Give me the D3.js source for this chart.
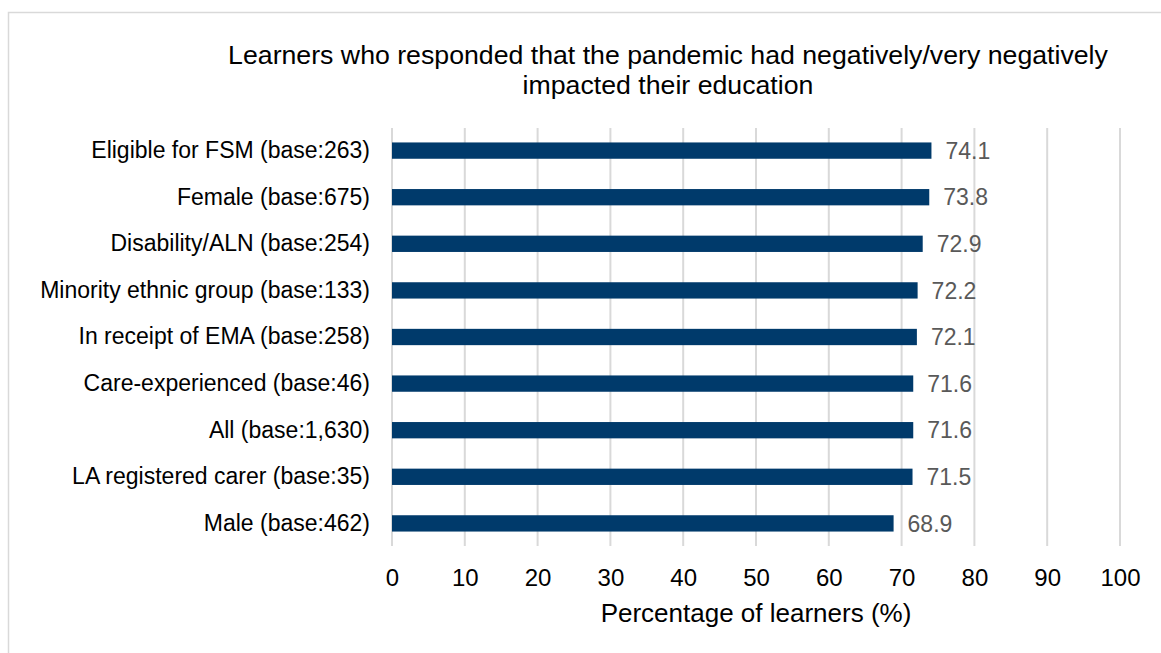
<!DOCTYPE html>
<html>
<head>
<meta charset="utf-8">
<script src="https://cdn.jsdelivr.net/npm/d3@7"></script>
<style>
  body { margin: 0; background: #fff; }
  text { font-family: "Liberation Sans", Arial, sans-serif; }
</style>
</head>
<body>
<div id="chart"></div>
<script>
// chart values
var categories = [
  "Eligible for FSM (base:263)",
  "Female (base:675)",
  "Disability/ALN (base:254)",
  "Minority ethnic group (base:133)",
  "In receipt of EMA (base:258)",
  "Care-experienced (base:46)",
  "All (base:1,630)",
  "LA registered carer (base:35)",
  "Male (base:462)"
];
var values = [74.1, 73.8, 72.9, 72.2, 72.1, 71.6, 71.6, 71.5, 68.9];
var xTicks = [0, 10, 20, 30, 40, 50, 60, 70, 80, 90, 100];

var svgWidth = 1161;
var svgHeight = 653;

var margin = { top: 128, right: 41, bottom: 107, left: 392 };
var width = svgWidth - margin.left - margin.right;
var height = svgHeight - margin.top - margin.bottom;

var svg = d3.select("#chart")
  .append("svg")
  .attr("width", svgWidth)
  .attr("height", svgHeight);

// outer frame
svg.append("rect")
  .attr("x", 8.5)
  .attr("y", 12.5)
  .attr("width", 1160)
  .attr("height", 660)
  .attr("fill", "none")
  .attr("stroke", "#d9d9d9")
  .attr("stroke-width", 1.5);

var g = svg.append("g")
  .attr("transform", `translate(${margin.left}, ${margin.top})`);

var xScale = d3.scaleLinear()
  .domain([0, 100])
  .range([0, width]);

var yScale = d3.scaleBand()
  .domain(categories)
  .range([0, height])
  .paddingInner(0.65)
  .paddingOuter(0.31);

// gridlines
g.selectAll(".grid")
  .data(xTicks)
  .enter()
  .append("line")
  .attr("x1", d => xScale(d))
  .attr("x2", d => xScale(d))
  .attr("y1", 0)
  .attr("y2", height)
  .attr("stroke", "#d9d9d9")
  .attr("stroke-width", 2);

// x axis
var bottomAxis = d3.axisBottom(xScale)
  .tickValues(xTicks)
  .tickSize(0)
  .tickPadding(23);

var xAxis = g.append("g")
  .attr("transform", `translate(0, ${height})`)
  .call(bottomAxis);
xAxis.select(".domain").remove();
xAxis.selectAll("text")
  .attr("font-size", 24)
  .attr("fill", "#000")
  .style("font-family", "'Liberation Sans', Arial, sans-serif");

// y axis
var leftAxis = d3.axisLeft(yScale)
  .tickSize(0)
  .tickPadding(22);

var yAxis = g.append("g").call(leftAxis);
yAxis.select(".domain").remove();
yAxis.selectAll("text")
  .attr("font-size", 23)
  .attr("fill", "#000")
  .style("font-family", "'Liberation Sans', Arial, sans-serif");

// bars
g.selectAll(".bar")
  .data(values)
  .enter()
  .append("rect")
  .attr("x", 0)
  .attr("y", (d, i) => yScale(categories[i]))
  .attr("width", d => xScale(d))
  .attr("height", yScale.bandwidth())
  .attr("fill", "#003a6b");

// data labels
g.selectAll(".label")
  .data(values)
  .enter()
  .append("text")
  .attr("x", d => xScale(d) + 14)
  .attr("y", (d, i) => yScale(categories[i]) + yScale.bandwidth() / 2)
  .attr("dy", "0.36em")
  .attr("font-size", 23)
  .attr("fill", "#595959")
  .text(d => d.toFixed(1));

// title
var title = svg.append("text")
  .attr("x", 668)
  .attr("y", 64)
  .attr("text-anchor", "middle")
  .attr("font-size", 26.7)
  .attr("fill", "#000");
title.append("tspan")
  .attr("x", 668)
  .text("Learners who responded that the pandemic had negatively/very negatively");
title.append("tspan")
  .attr("x", 668)
  .attr("dy", 30)
  .text("impacted their education");

// x axis title
svg.append("text")
  .attr("x", margin.left + width / 2)
  .attr("y", 622)
  .attr("text-anchor", "middle")
  .attr("font-size", 26)
  .attr("fill", "#000")
  .text("Percentage of learners (%)");
</script>
</body>
</html>
